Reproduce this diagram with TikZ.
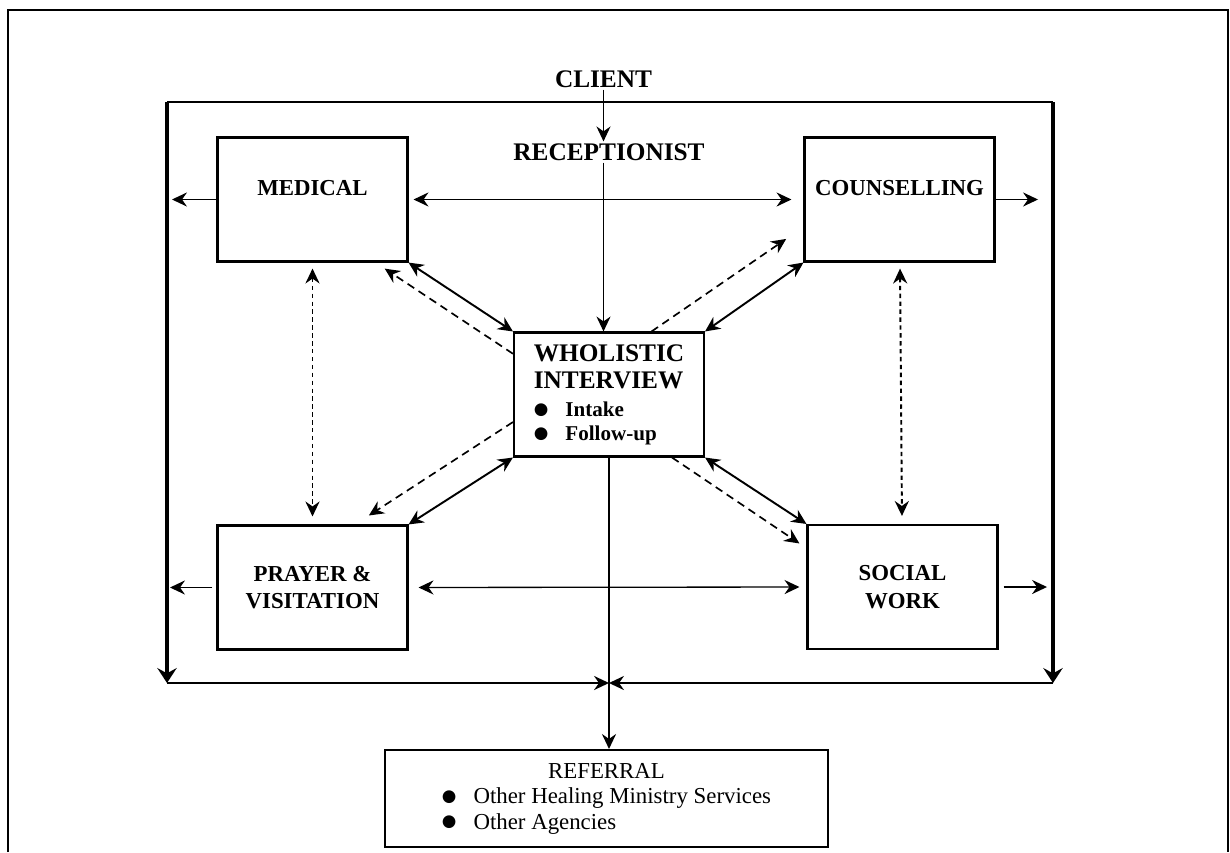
\documentclass[tikz,border=0pt]{standalone}
\usepackage{fontspec}
\setmainfont{Liberation Serif}
\newfontfamily\dejavu{DejaVu Sans}
\usetikzlibrary{arrows.meta}

\newcommand{\dotitem}{\makebox[18pt][l]{\raisebox{1.2pt}{\dejavu\mdseries\fontsize{9.5}{9.5}\selectfont ●}}}

\tikzset{
    unit/.style={draw, line width=1.2pt, minimum width=3.8cm, minimum height=2.48cm,
        align=center, font=\bfseries\fontsize{13}{15.5}\selectfont},
    raised/.style={text depth=13pt},
    caption/.style={inner sep=1pt, font=\bfseries\fontsize{14.4}{16}\selectfont},
    link/.style={line width=1.1pt},
    thinlink/.style={line width=0.75pt},
    hint/.style={line width=0.95pt, dash pattern=on 4.5pt off 3pt},
    dotlink/.style={line width=1.1pt, dash pattern=on 2.5pt off 2pt},
    wall/.style={line width=2pt, >={Stealth[length=8.5pt,width=11pt,inset=3pt]}}
}

\begin{document}
\begin{tikzpicture}[x=0.02cm, y=-0.02cm, >={Stealth[length=8.5pt,width=8pt,inset=2.8pt]}]
        \useasboundingbox (0,0) rectangle (1230,852);

        % Outer frame
        \draw[line width=1.4pt] (8,852) -- (8,10) -- (1228,10) -- (1228,852);

        % Entry
        \node at (603.5,79) [caption] (client) {CLIENT};
        \node at (609,152) [caption] (recep) {RECEPTIONIST};

        % Boxes
        \node at (312.5,199.5) [unit, raised] (medical) {MEDICAL};
        \node at (899.5,199.5) [unit, raised] (counsel) {COUNSELLING};
        \node at (312.5,587.5) [unit] (prayer) {PRAYER \&\\VISITATION};
        \node at (902.5,587) [unit] (social) {SOCIAL\\WORK};
        \node at (609,394.5) [unit, align=left, font=\bfseries\fontsize{14.4}{15.5}\selectfont] (interview)
            {WHOLISTIC\\INTERVIEW\\[0.5pt]{\fontsize{12}{13.5}\selectfont\dotitem Intake}\\[-2pt]{\fontsize{12}{13.5}\selectfont\dotitem Follow-up}};
        \node at (606.5,798.5) [unit, minimum width=8.86cm, minimum height=1.94cm, font=\fontsize{13}{14.5}\selectfont] (referral)
            {\begin{tabular}{@{}l@{}}\multicolumn{1}{@{}c@{}}{REFERRAL}\\\dotitem Other Healing Ministry Services\\\dotitem Other Agencies\end{tabular}};

        % Inner frame
        \coordinate (ftl) at (167,102);
        \coordinate (ftr) at (1053,102);
        \coordinate (fbl) at (167,683);
        \coordinate (fbr) at (1053,683);
        \coordinate (merge) at (interview.south |- fbl);

        \draw[line width=1pt] (ftl) -- (ftr);
        \draw[wall, ->] (ftl) -- (fbl);
        \draw[wall, ->] (ftr) -- (fbr);
        \draw[link, ->] (fbl) -- (merge);
        \draw[link, ->] (fbr) -- (merge);

        % Arrows
        \draw[thinlink, ->] (client) -- (client |- recep.north);
        \draw[thinlink, ->] (client |- recep.south) -- (client |- interview.north);
        \draw[link, ->] (interview.south) -- (interview.south |- referral.north);

        \draw[thinlink, <->, shorten <=0.1cm, shorten >=0.24cm] (medical) -- (counsel);
        \draw[thinlink, <->, shorten <=0.2cm, shorten >=0.14cm] (prayer.east) -- (social.west);

        \draw[thinlink, ->, shorten >=0.1cm] (medical.west) -- (medical.west -| ftl);
        \draw[thinlink, ->, shorten >=0.3cm] (counsel.east) -- (counsel.east -| ftr);
        \draw[thinlink, ->, shorten <=0.08cm, shorten >=0.06cm] (prayer.west) -- (prayer.west -| fbl);
        \draw[thinlink, ->, shorten <=0.1cm, shorten >=0.12cm] (social.east) -- (social.east -| fbr);

        \draw[dotlink, <->, shorten <=0.12cm, shorten >=0.16cm] (medical) -- (prayer);
        \draw[dotlink, <->, shorten <=0.12cm, shorten >=0.16cm] (counsel) -- (social);

        \draw[link, <->] (medical.south east) -- (interview.north west);
        \draw[link, <->] (counsel.south west) -- (interview.north east);
        \draw[link, <->] (prayer.north east) -- (interview.south west);
        \draw[link, <->] (social.north west) -- (interview.south east);

        \draw[hint, ->, shorten >=0.22cm] (interview.157) -- (medical.-45);
        \draw[hint, ->, shorten >=0.33cm] (interview.196) -- (prayer.56);
        \draw[hint, ->, shorten >=0.42cm] (interview.56) -- (counsel.196);
        \draw[hint, ->, shorten >=0.17cm] (interview.-45) -- (social.158);

    \end{tikzpicture}
\end{document}
